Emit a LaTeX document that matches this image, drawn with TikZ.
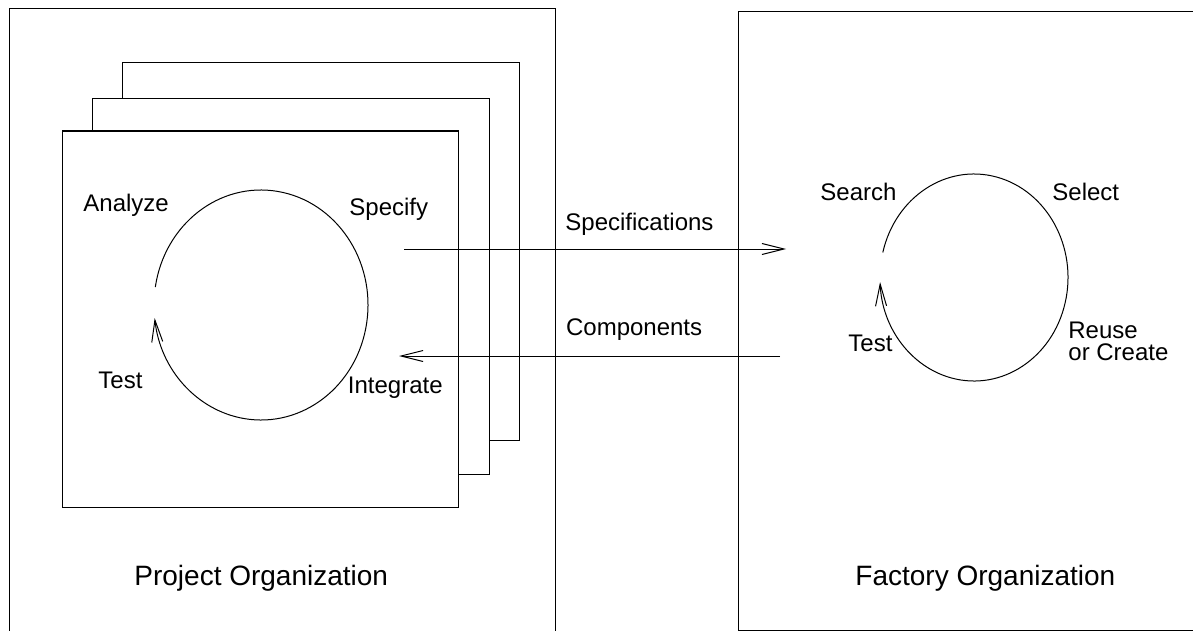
\documentclass[tikz,border=0pt]{standalone}
\usepackage{fontspec}
\setmainfont{Liberation Sans}
\usetikzlibrary{arrows.meta}

\begin{document}
\begin{tikzpicture}[
    x=0.5pt, y=-0.5pt,
    frame/.style={draw=black, line width=0.5pt},
    sheet/.style={draw=black, fill=white, line width=0.5pt},
    loop/.style={line width=0.5pt, -{Straight Barb[length=11pt,width=5.5pt]}},
    flow/.style={line width=0.5pt, -{Straight Barb[length=11pt,width=5.5pt]}},
    phase/.style={font=\fontsize{12}{10.8}\selectfont, anchor=base west, inner sep=0pt, align=left},
    title/.style={font=\fontsize{14}{16}\selectfont, anchor=base west, inner sep=0pt},
]
\useasboundingbox (0,0) rectangle (1193,631);

% organisations
\draw[frame] (9,640) -- (9,9) -- (555,9) -- (555,640);
\draw[frame] (1200,12) -- (738,12) -- (738,630) -- (1200,630);

% stack of project sheets
\draw[sheet] (122,63) rectangle (519,440);
\draw[sheet] (92,99) rectangle (489,474);
\draw[sheet] (62,131) rectangle (458,507);

% project cycle
\coordinate (proj hub) at (261,305);
\draw[loop] (proj hub) ++(-171:107 and 115)
    arc[start angle=-171, end angle=173.5, x radius=107, y radius=115];
\node[phase] (analyze) at (83,211) {Analyze};
\node[phase] (specify) at (349,215) {Specify};
\node[phase] (integrate) at (347.5,393) {Integrate};
\node[phase] (proj test) at (98,388) {Test};

% factory cycle
\coordinate (fact hub) at (974,277.5);
\draw[loop] (fact hub) ++(-166:94 and 103.5)
    arc[start angle=-166, end angle=177.5, x radius=94, y radius=103.5];
\node[phase] (search) at (820,200) {Search};
\node[phase] (select) at (1052,200) {Select};
\node[phase] (fact test) at (848,351) {Test};
\node[phase] (reuse) at (1068,360) {Reuse\\or Create};

% exchange between the two
\coordinate (spec from) at (404,249);
\coordinate (spec to) at (786,249);
\coordinate (comp from) at (780,356);
\coordinate (comp to) at (399,356);
\draw[flow] (spec from) -- (spec to);
\draw[flow] (comp from) -- (comp to);
\node[phase] (specs) at (565,230) {Specifications};
\node[phase] (comps) at (565.7,335) {Components};

\node[title] (project) at (134,585) {Project Organization};
\node[title] (factory) at (855,585) {Factory Organization};
\end{tikzpicture}
\end{document}
